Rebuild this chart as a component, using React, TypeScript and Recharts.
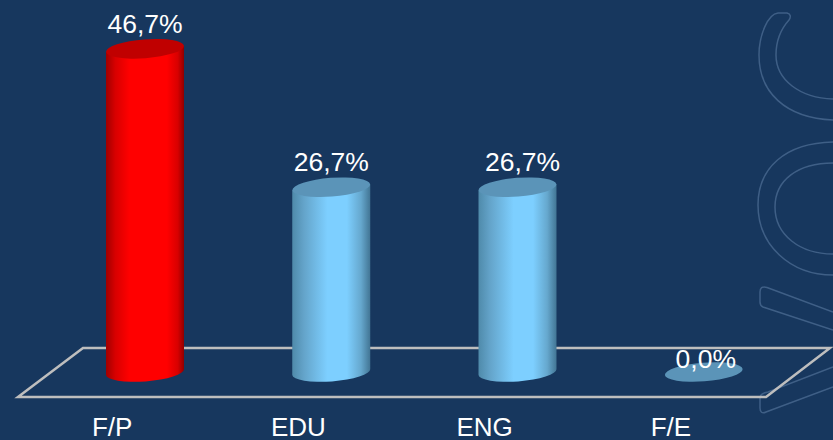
import { Bar, BarChart, LabelList, XAxis, YAxis } from 'recharts';

const categories = ['F/P', 'EDU', 'ENG', 'F/E'];
const shares = [46.7, 26.7, 26.7, 0];
const bodyFills = ['url(#cylRed)', 'url(#cylBlue)', 'url(#cylBlue)', 'url(#cylBlue)'];
const capFills = ['#C00000', '#5B94B8', '#5B94B8', '#5B94B8'];

const data = categories.map((name, i) => ({ name, share: shares[i], body: bodyFills[i], cap: capFills[i] }));

const BG = '#17375E';
const FONT = '"Liberation Sans", Arial, sans-serif';
// the source labels are not quite centred over the last two cylinders
const labelNudge = [0, 0, 5, 2];

function Cylinder(props: any) {
  const { x, y, width, height, payload } = props;
  const rx = width / 2;
  const ry = 9.4;
  const tilt = 3;
  const cx = x + rx;
  const bottom = y + height;
  const side =
    `M${x},${y + tilt} L${x},${bottom + tilt} ` +
    `A${rx},${ry} -4.4 0 0 ${x + width},${bottom - tilt} L${x + width},${y - tilt} Z`;
  return (
    <g>
      {height > 0 && <path d={side} fill={payload.body} />}
      <ellipse cx={cx} cy={y} rx={rx} ry={ry} fill={payload.cap} transform={`rotate(-4.4 ${cx} ${y})`} />
    </g>
  );
}

function ShareLabel(props: any) {
  const { x, y, width, value, index } = props;
  const gap = value > 0 ? 16 : 4;
  return (
    <text x={x + width / 2 + labelNudge[index]} y={y - gap} textAnchor="middle" fill="#fff" fontSize={26.5} fontFamily={FONT}>
      {`${value.toFixed(1).replace('.', ',')}%`}
    </text>
  );
}

function CategoryTick(props: any) {
  const { x, y, payload } = props;
  return (
    <text x={x - 33} y={y + 55.5} textAnchor="middle" fill="#fff" fontSize={26} fontFamily={FONT}>
      {payload.value}
    </text>
  );
}

function Backdrop() {
  return (
    <svg width={833} height={440} style={{ position: 'absolute', left: 0, top: 0 }}>
      <g fill="none" stroke="#3F5F86" strokeWidth={1.5}>
        <path d="M833,120 C785,118 759,92 759,55 C759,35 768,14 778,13 L787,13 C791,14 791,17 789,20 C780,30 776,42 776,55 C776,80 800,98 833,99" />
        <path d="M833,142 C785,143 758,168 758,205 C758,245 790,275 833,275" />
        <path d="M833,163 C798,163 775,180 775,207 C775,235 800,254 833,254" />
        <path d="M833,312 L767,287.5 C762,286 760,288 760,292 L760,302 C760,305 761,306 763,307 L833,330" />
        <path d="M833,367 L768,392 C762,393 760,395 760,398 L760,408 C760,412 762,414 766,412 L833,387" />
      </g>
      <path d="M18,397 L83,348 L830,348 L766,397 Z" fill="none" stroke="#BEBEBE" strokeWidth={2.5} />
    </svg>
  );
}

export default function App() {
  return (
    <div style={{ position: 'fixed', left: 0, top: 0, width: 833, height: 440, background: BG, overflow: 'hidden' }}>
      <Backdrop />
      <div style={{ position: 'absolute', left: 0, top: 0 }}>
        <BarChart width={833} height={440} data={data} margin={{ top: 26, right: 36, bottom: 0, left: 52 }} barCategoryGap={0}>
          <defs>
            <linearGradient id="cylRed" x1="0" y1="0" x2="1" y2="0">
              <stop offset="0" stopColor="#A00000" />
              <stop offset="0.12" stopColor="#D80000" />
              <stop offset="0.3" stopColor="#FF0000" />
              <stop offset="0.78" stopColor="#FF0000" />
              <stop offset="0.92" stopColor="#D80000" />
              <stop offset="1" stopColor="#900000" />
            </linearGradient>
            <linearGradient id="cylBlue" x1="0" y1="0" x2="1" y2="0">
              <stop offset="0" stopColor="#4F8AAA" />
              <stop offset="0.15" stopColor="#64A4CA" />
              <stop offset="0.45" stopColor="#7DCFFF" />
              <stop offset="0.7" stopColor="#7DCFFF" />
              <stop offset="0.88" stopColor="#66A8CE" />
              <stop offset="1" stopColor="#427594" />
            </linearGradient>
          </defs>
          <XAxis dataKey="name" axisLine={false} tickLine={false} height={68} tick={<CategoryTick />} interval={0} />
          <YAxis hide domain={[0, 50]} />
          <Bar dataKey="share" barSize={78} shape={<Cylinder />} isAnimationActive={false}>
            <LabelList dataKey="share" content={<ShareLabel />} />
          </Bar>
        </BarChart>
      </div>
    </div>
  );
}
